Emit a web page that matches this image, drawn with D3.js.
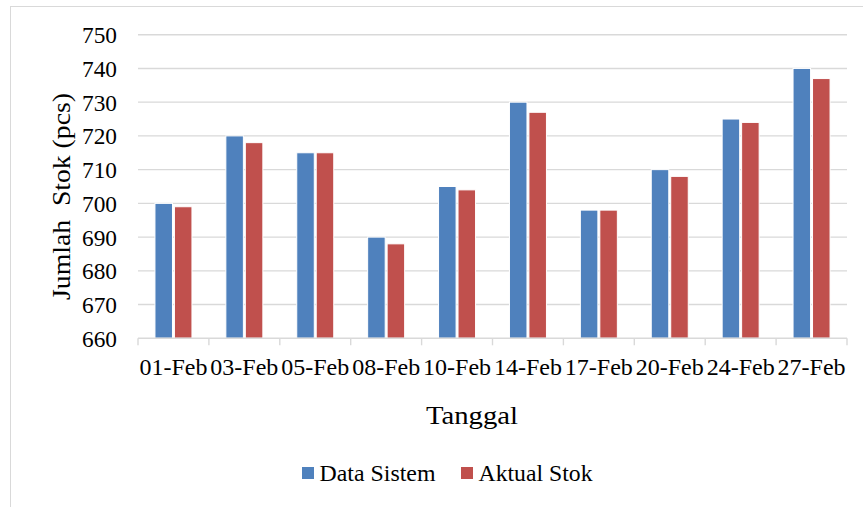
<!DOCTYPE html>
<html>
<head>
<meta charset="utf-8">
<script src="https://cdn.jsdelivr.net/npm/d3@7"></script>
<style>
  html, body { margin: 0; padding: 0; background: #fff; }
  svg text { font-family: 'Liberation Serif', 'DejaVu Serif', serif; }
</style>
</head>
<body>
<svg id="chart" width="863" height="507" font-family="Liberation Serif"></svg>
<script>
const categories = ["01-Feb","03-Feb","05-Feb","08-Feb","10-Feb","14-Feb","17-Feb","20-Feb","24-Feb","27-Feb"];
const seriesNames = ["Data Sistem","Aktual Stok"];
const dataSistem = [700,720,715,690,705,730,698,710,725,740];
const aktualStok = [699,718,715,688,704,727,698,708,724,737];
const yTicks = [660,670,680,690,700,710,720,730,740,750];
const colors = ["#4F81BD","#C0504D"];

(function(){
const FONT = "'Liberation Serif', 'DejaVu Serif', serif";
const svg = d3.select("#chart");

// chart border
svg.append("rect").attr("x",10.5).attr("y",6.5).attr("width",900).attr("height",600)
  .attr("fill","none").attr("stroke","#d9d9d9").attr("stroke-width",1);

const pL = 138, pR = 847, pT = 34.7, pB = 338.3;

const x0 = d3.scaleBand().domain(categories).range([pL,pR]).padding(0);
const bw = x0.bandwidth();
const x1 = d3.scaleBand().domain(seriesNames).range([bw/2-18.5, bw/2+18.5]).paddingInner(0.1);
const y = d3.scaleLinear().domain([660,750]).range([pB, pT]);

// gridlines
svg.append("g").selectAll("line").data(yTicks.filter(d=>d>660)).join("line")
  .attr("x1",pL).attr("x2",pR)
  .attr("y1",d=>y(d)).attr("y2",d=>y(d))
  .attr("stroke","#d9d9d9").attr("stroke-width",1.4);

// y tick labels
svg.append("g").selectAll("text").data(yTicks).join("text")
  .attr("x",117).attr("y",d=>y(d)+8.4)
  .attr("text-anchor","end").attr("font-size",22.5).attr("font-family",FONT).attr("fill","#000")
  .attr("textLength",35).attr("lengthAdjust","spacingAndGlyphs")
  .text(d=>d);

// bars
const rows = categories.map((c,i)=>({cat:c, vals:[dataSistem[i], aktualStok[i]]}));
const g = svg.append("g");
rows.forEach(r=>{
  g.append("g").attr("transform",`translate(${x0(r.cat)},0)`)
    .selectAll("rect").data(r.vals.map((v,j)=>({s:seriesNames[j], v, c:colors[j]}))).join("rect")
    .attr("x",d=>x1(d.s)).attr("width",x1.bandwidth())
    .attr("y",d=>y(d.v)).attr("height",d=>y(660)-y(d.v))
    .attr("fill",d=>d.c).attr("stroke","#fff").attr("stroke-width",1);
});

// x axis
const ax = svg.append("g").attr("transform",`translate(0,${pB})`);
ax.append("line").attr("x1",pL).attr("x2",pR).attr("y1",0).attr("y2",0)
  .attr("stroke","#d9d9d9").attr("stroke-width",1.4);
const bounds = categories.map(c=>x0(c)).concat([pR]);
ax.selectAll("line.tk").data(bounds).join("line").attr("class","tk")
  .attr("x1",d=>d).attr("x2",d=>d).attr("y1",0).attr("y2",7)
  .attr("stroke","#d9d9d9").attr("stroke-width",1.4);
ax.selectAll("text").data(categories).join("text")
  .attr("x",d=>x0(d)+bw/2).attr("y",36.8)
  .attr("text-anchor","middle").attr("font-size",22.5).attr("font-family",FONT).attr("fill","#000")
  .attr("textLength",68).attr("lengthAdjust","spacingAndGlyphs")
  .text(d=>d);

// axis titles
svg.append("text").attr("x",472).attr("y",423.5).attr("text-anchor","middle")
  .attr("font-size",25).attr("font-family",FONT).attr("fill","#000")
  .attr("textLength",92).attr("lengthAdjust","spacingAndGlyphs")
  .text("Tanggal");
svg.append("text").attr("transform",`translate(69.5,196.5) rotate(-90)`)
  .attr("text-anchor","middle").attr("font-size",25).attr("font-family",FONT).attr("fill","#000")
  .attr("xml:space","preserve").style("white-space","pre")
  .attr("textLength",207).attr("lengthAdjust","spacingAndGlyphs")
  .text("Jumlah  Stok (pcs)");

// legend
const legendX = [302, 461];
const legendW = [116, 114];
const lg = svg.append("g");
seriesNames.forEach((s,i)=>{
  lg.append("rect").attr("x",legendX[i]).attr("y",467).attr("width",12).attr("height",12).attr("fill",colors[i]);
  lg.append("text").attr("x",legendX[i]+17.5).attr("y",480.7).attr("font-size",22.5).attr("font-family",FONT).attr("fill","#000")
    .attr("textLength",legendW[i]).attr("lengthAdjust","spacingAndGlyphs")
    .text(s);
});
})();
</script>
</body>
</html>
